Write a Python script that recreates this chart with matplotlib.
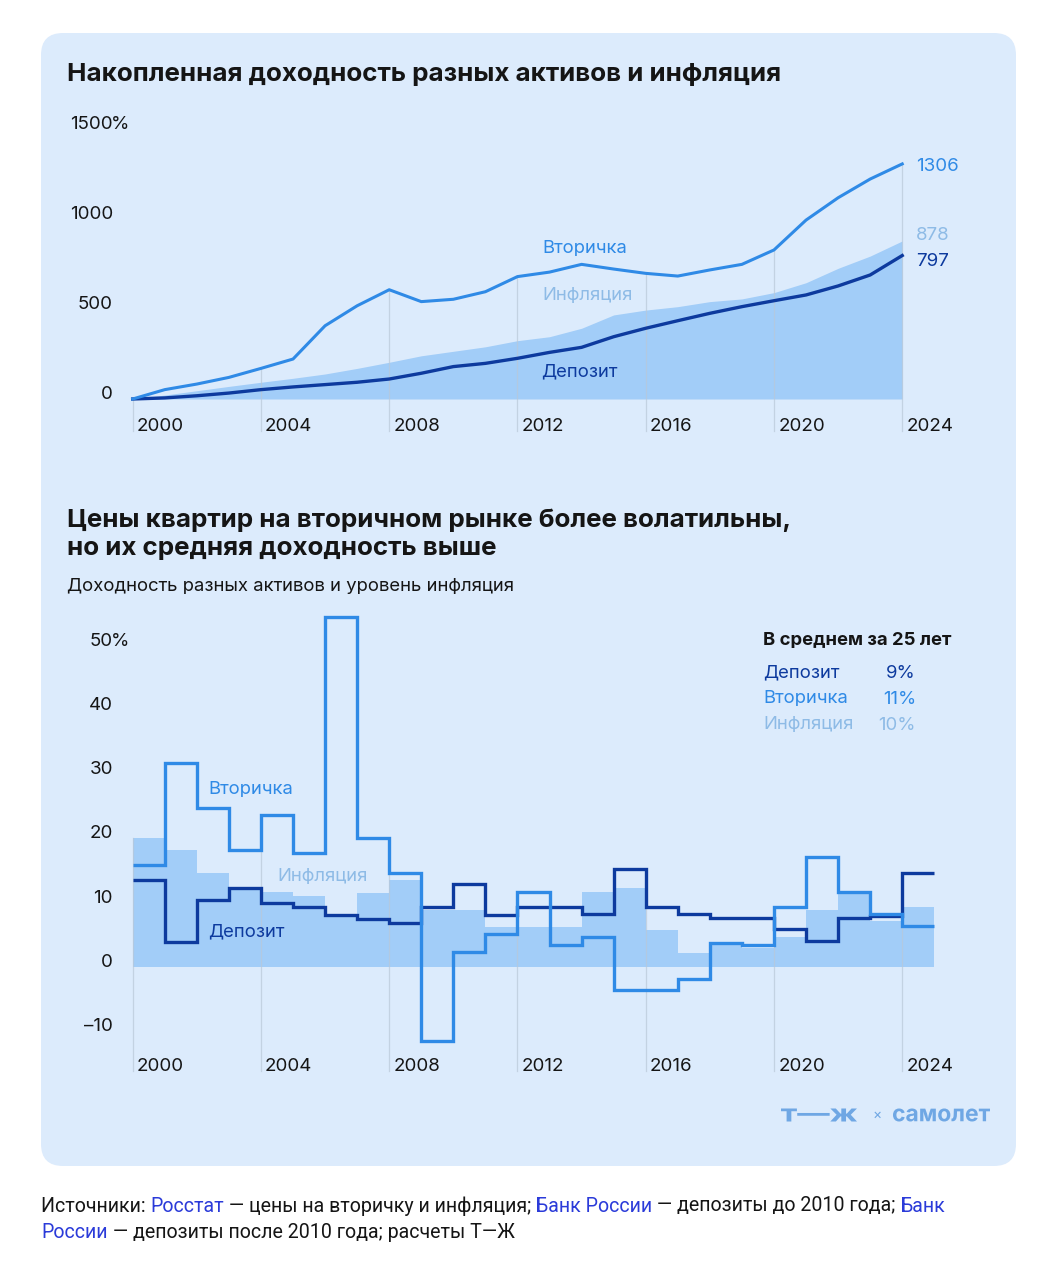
import numpy as np
import matplotlib
matplotlib.use("Agg")
import matplotlib.pyplot as plt
from matplotlib.patches import FancyBboxPatch, PathPatch
from matplotlib.transforms import IdentityTransform, Affine2D
from matplotlib.textpath import TextPath
from matplotlib.font_manager import FontProperties

plt.rcParams["font.family"] = ["Inter", "DejaVu Sans"]

# ============================
# Данные
# ============================
YEARS = list(range(2000, 2025))

# накопленная доходность, %
cum_vtor = [0, 52, 83, 120, 170, 222, 407, 518, 607, 541, 554, 596, 680, 705,
            748, 722, 698, 683, 717, 748, 828, 994, 1118, 1222, 1306]
cum_infl = [0, 22, 46, 70, 93, 115, 139, 170, 204, 240, 265, 290, 324, 346,
            393, 467, 494, 513, 541, 556, 591, 646, 726, 794, 878]
cum_dep = [0, 6, 18, 33, 52, 67, 80, 93, 111, 143, 180, 198, 226, 259,
           287, 346, 393, 435, 476, 513, 546, 578, 628, 689, 797]

# доходность за год, %
yr_vtor = [15.9, 31.8, 24.8, 18.2, 23.6, 17.7, 54.4, 20.0, 14.7, -11.5, 2.3, 5.1, 11.7,
           3.5, 4.6, -3.6, -3.6, -1.9, 3.7, 3.4, 9.4, 17.1, 11.7, 8.2, 6.4]
yr_dep = [13.5, 3.9, 10.5, 12.3, 10.0, 9.4, 8.1, 7.5, 6.9, 9.3, 12.9, 8.1, 9.4,
          9.4, 8.2, 15.3, 9.4, 8.2, 7.7, 7.6, 5.9, 4.0, 7.6, 8.0, 14.7]
yr_infl = [20.0, 18.2, 14.7, 12.0, 11.7, 11.0, 8.2, 11.5, 13.5, 8.8, 8.8, 6.3, 6.3,
           6.3, 11.7, 12.3, 5.7, 2.2, 3.8, 2.9, 4.6, 8.9, 11.7, 7.1, 9.4]

TOP_TICKS = [0, 500, 1000, 1500]
BOT_TICKS = [-10, 0, 10, 20, 30, 40, 50]
X_TICKS = list(range(2000, 2025, 4))

AVG_NAMES = ["Депозит", "Вторичка", "Инфляция"]
AVG_VALUES = ["9%", "11%", "10%"]

# ============================
# Стиль
# ============================
CARD = "#dcebfc"
FILL = "#a2cdf8"
C_VTOR = "#2f8ae6"
C_DEP = "#0d3a9e"
C_INFL_TXT = "#8ebbe6"
C_GRID = "#b9c8d8"
C_TXT = "#151515"
C_LINK = "#2b3bd9"
C_LOGO = "#6fa7e4"
FS_TICK = 13.5
FS_LAB = 13.3
FS_TITLE = 18.7

W, H, DPI = 1050, 1280, 100
fig = plt.figure(figsize=(W / DPI, H / DPI), dpi=DPI)
fig.patch.set_facecolor("white")

card = FancyBboxPatch((41, H - 1166), 975, 1133, boxstyle="round,pad=0,rounding_size=22",
                      transform=IdentityTransform(), facecolor=CARD, edgecolor="none", zorder=0)
fig.add_artist(card)


def add_px_axes(x0, x1, ytop, ybot):
    ax = fig.add_axes([x0 / W, 1 - ybot / H, (x1 - x0) / W, (ybot - ytop) / H])
    ax.set_axis_off()
    ax.patch.set_alpha(0)
    return ax


def ftext(x, y, s, **kw):
    return fig.text(x / W, 1 - y / H, s, **kw)


def text_runs(x, y, runs, **kw):
    r = fig.canvas.get_renderer()
    for s, c in runs:
        t = ftext(x, y, s, color=c, va="center", ha="left", **kw)
        x += t.get_window_extent(r).width


def stretched_text(x, y, s, width, height, color, weight="bold"):
    # текст логотипа, растянутый до заданной ширины (пиксели)
    tp = TextPath((0, 0), s, size=20, prop=FontProperties(family="Inter", weight=weight))
    ext = tp.get_extents()
    sx = width / ext.width
    sy = height / ext.height
    tr = Affine2D().translate(-ext.x0, -ext.y0).scale(sx, sy).translate(x, H - y - height / 2)
    fig.add_artist(PathPatch(tr.transform_path(tp), transform=IdentityTransform(),
                             facecolor=color, edgecolor="none"))


X0, X1 = 132.7, 934.3   # 2000 .. 2025
YLAB_X = 2000 - (X0 - 113) / ((X1 - X0) / 25)

# ============================
# 1) Накопленная доходность
# ============================
ftext(67, 74, "Накопленная доходность разных активов и инфляция",
      fontsize=FS_TITLE, fontweight="bold", color=C_TXT, va="center")

axt = add_px_axes(X0, X1, 129, 399)
axt.set_xlim(2000, 2025)
axt.set_ylim(0, 1500)

axt.fill_between(YEARS, 0, cum_infl, color=FILL, lw=0, zorder=1)
for yr in X_TICKS:
    i = yr - 2000
    axt.plot([yr, yr], [-178, cum_vtor[i]], color=C_GRID, lw=0.9, alpha=0.7,
             clip_on=False, zorder=1.5)
    axt.text(yr + 0.13, -178, str(yr), fontsize=FS_TICK, color=C_TXT, va="baseline",
             ha="left", clip_on=False)
axt.plot(YEARS, cum_dep, color=C_DEP, lw=2.4, zorder=3, clip_on=False)
axt.plot(YEARS, cum_vtor, color=C_VTOR, lw=2.2, zorder=3, clip_on=False)

for v in TOP_TICKS:
    axt.text(YLAB_X, v, str(v), fontsize=FS_TICK, color=C_TXT, ha="right", va="baseline",
             clip_on=False)
axt.annotate("%", (YLAB_X, TOP_TICKS[-1]), xytext=(-1.5, 0), textcoords="offset points",
             fontsize=FS_TICK, color=C_TXT, ha="left", va="baseline", annotation_clip=False)

axt.annotate(str(cum_vtor[-1]), (YEARS[-1], cum_vtor[-1]), xytext=(10, -2),
             textcoords="offset points", fontsize=FS_TICK, color=C_VTOR, va="center")
axt.annotate(str(cum_infl[-1]), (YEARS[-1], cum_infl[-1]), xytext=(10, 4),
             textcoords="offset points", fontsize=FS_TICK, color=C_INFL_TXT, va="center")
axt.annotate(str(cum_dep[-1]), (YEARS[-1], cum_dep[-1]), xytext=(10, -4.5),
             textcoords="offset points", fontsize=FS_TICK, color=C_DEP, va="center")

axt.text(2012.77, 836, "Вторичка", fontsize=FS_LAB, color=C_VTOR, va="center")
axt.text(2012.77, 575, "Инфляция", fontsize=FS_LAB, color=C_INFL_TXT, va="center")
axt.text(2012.74, 153, "Депозит", fontsize=FS_LAB, color=C_DEP, va="center")

# ============================
# 2) Доходность по годам
# ============================
ftext(67, 520, "Цены квартир на вторичном рынке более волатильны,",
      fontsize=FS_TITLE, fontweight="bold", color=C_TXT, va="center")
ftext(67, 549, "но их средняя доходность выше",
      fontsize=FS_TITLE, fontweight="bold", color=C_TXT, va="center")
ftext(67, 586, "Доходность разных активов и уровень инфляция",
      fontsize=FS_LAB, color=C_TXT, va="center")

axb = add_px_axes(X0, X1, 613.4, 1047.4)
axb.set_xlim(2000, 2025)
axb.set_ylim(-12.5, 55)
edges = np.arange(2000, 2026)

axb.stairs(yr_infl, edges, fill=True, color=FILL, baseline=0, lw=0, zorder=1)
for yr in X_TICKS:
    i = yr - 2000
    top = max(s[j] for s in (yr_vtor, yr_dep, yr_infl) for j in (i - 1, i) if 0 <= j < len(s))
    axb.plot([yr, yr], [-16.1, top], color=C_GRID, lw=0.9, alpha=0.7,
             clip_on=False, zorder=1.5)
    axb.text(yr + 0.13, -16.1, str(yr), fontsize=FS_TICK, color=C_TXT, va="baseline",
             ha="left", clip_on=False)
axb.stairs(yr_dep, edges, baseline=None, color=C_DEP, lw=2.4, joinstyle="miter",
           zorder=3, clip_on=False)
axb.stairs(yr_vtor, edges, baseline=None, color=C_VTOR, lw=2.4, joinstyle="miter",
           zorder=3, clip_on=False)

for v in BOT_TICKS:
    lab = str(v) if v >= 0 else "–" + str(-v)
    axb.text(YLAB_X, v, lab, fontsize=FS_TICK, color=C_TXT, ha="right", va="baseline",
             clip_on=False)
axb.annotate("%", (YLAB_X, BOT_TICKS[-1]), xytext=(-1.5, 0), textcoords="offset points",
             fontsize=FS_TICK, color=C_TXT, ha="left", va="baseline", annotation_clip=False)

axb.text(2002.35, 27.6, "Вторичка", fontsize=FS_LAB, color=C_VTOR, va="center")
axb.text(2004.5, 14.1, "Инфляция", fontsize=FS_LAB, color=C_INFL_TXT, va="center")
axb.text(2002.35, 5.4, "Депозит", fontsize=FS_LAB, color=C_DEP, va="center")

# средние за 25 лет
ftext(763, 641, "В среднем за 25 лет", fontsize=13.3, fontweight="bold",
      color=C_TXT, va="center")
for k, (name, val, col) in enumerate(zip(AVG_NAMES, AVG_VALUES, [C_DEP, C_VTOR, C_INFL_TXT])):
    ftext(763, 673 + 26 * k, name, fontsize=FS_LAB, color=col, va="center")
    ftext(916, 673 + 26 * k, val, fontsize=FS_LAB, color=col, va="center", ha="right")

# логотип
stretched_text(781, 1115, "т—ж", 76, 13, C_LOGO)
ftext(877, 1115, "×", fontsize=10, color=C_LOGO, va="center", ha="center")
stretched_text(893, 1115, "самолет", 97, 13, C_LOGO)

# ============================
# Источники
# ============================
FOOT = dict(fontsize=14.1, family=["Roboto", "DejaVu Sans"])
text_runs(41, 1206, [("Источники: ", C_TXT), ("Росстат", C_LINK),
                     (" — цены на вторичку и инфляция; ", C_TXT), ("Банк России", C_LINK),
                     (" — депозиты до 2010 года; ", C_TXT), ("Банк", C_LINK)], **FOOT)
text_runs(41, 1232, [("России", C_LINK),
                     (" — депозиты после 2010 года; расчеты Т—Ж", C_TXT)], **FOOT)

fig.savefig("out.png", dpi=DPI, facecolor="white")
